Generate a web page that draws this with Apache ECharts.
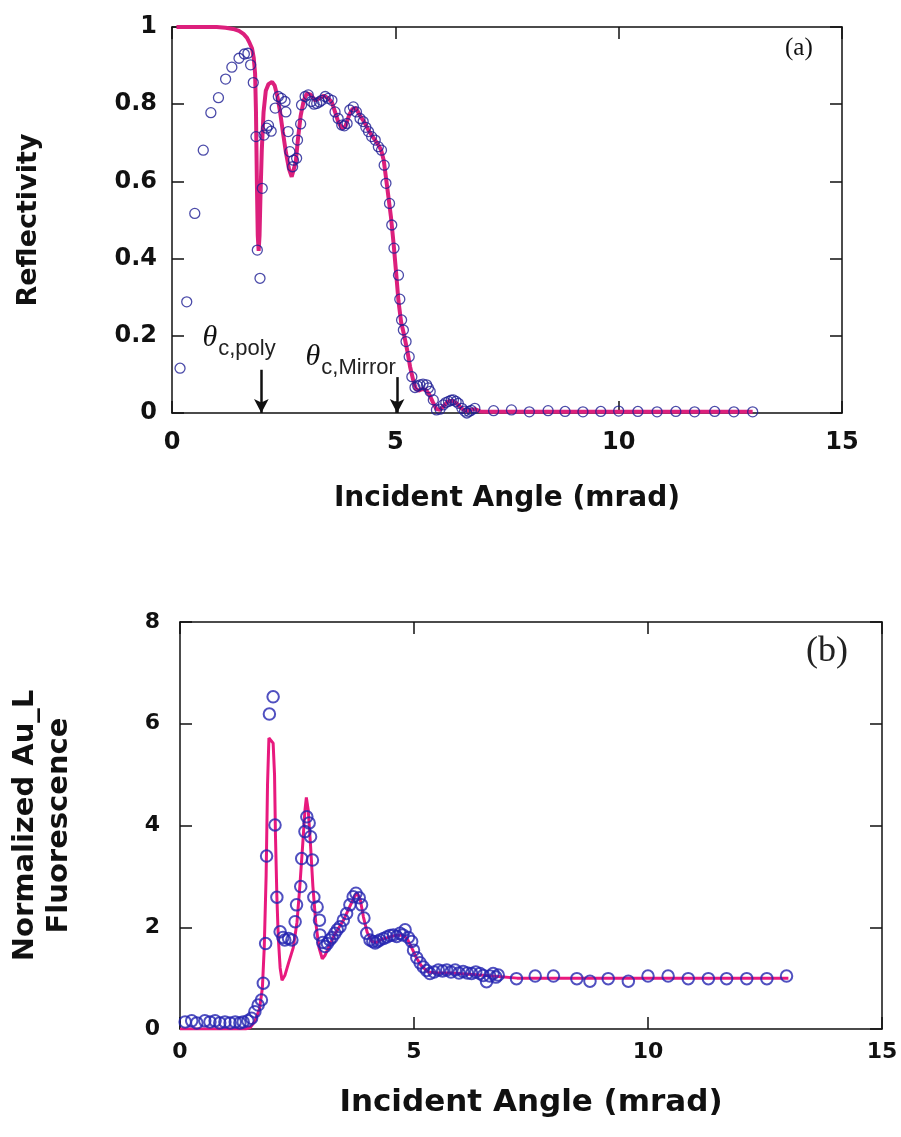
<!DOCTYPE html>
<html>
<head>
<meta charset="utf-8">
<title>Reflectivity and Au_L fluorescence vs incident angle</title>
<script src="https://cdn.jsdelivr.net/npm/echarts@6/dist/echarts.min.js"></script>
<style>
  html, body { margin: 0; padding: 0; background: #ffffff; }
  #chart { width: 901px; height: 1137px; }
</style>
</head>
<body>
<div id="chart"></div>
<script>
// (a) X-ray reflectivity: measured points and calculated curve, [angle mrad, R]
const reflMeasured = [
  [0.18,0.116],[0.33,0.288],[0.51,0.517],[0.70,0.681],[0.87,0.778],[1.04,0.817],[1.2,0.865],
  [1.34,0.896],[1.5,0.919],[1.62,0.93],[1.7,0.932],[1.76,0.902],[1.82,0.856],[1.88,0.716],
  [1.91,0.422],[1.97,0.349],[2.02,0.582],[2.06,0.72],[2.12,0.738],[2.16,0.745],[2.22,0.73],
  [2.31,0.79],[2.38,0.82],[2.45,0.815],[2.53,0.807],[2.55,0.78],[2.6,0.729],[2.64,0.677],
  [2.7,0.638],[2.72,0.655],[2.79,0.66],[2.81,0.707],[2.88,0.749],[2.9,0.798],[2.98,0.82],
  [3.05,0.824],[3.12,0.807],[3.18,0.8],[3.24,0.802],[3.3,0.806],[3.35,0.81],[3.43,0.82],
  [3.5,0.815],[3.58,0.81],[3.65,0.78],[3.72,0.763],[3.8,0.746],[3.86,0.744],[3.92,0.75],
  [3.98,0.785],[4.06,0.793],[4.13,0.78],[4.21,0.763],[4.28,0.755],[4.34,0.74],[4.4,0.729],
  [4.47,0.716],[4.55,0.707],[4.62,0.69],[4.69,0.681],[4.75,0.642],[4.79,0.595],[4.87,0.543],
  [4.92,0.487],[4.97,0.427],[5.07,0.357],[5.1,0.295],[5.14,0.241],[5.18,0.215],[5.24,0.185],
  [5.31,0.146],[5.37,0.094],[5.44,0.066],[5.5,0.07],[5.55,0.073],[5.62,0.075],[5.7,0.073],
  [5.74,0.065],[5.78,0.056],[5.85,0.034],[5.92,0.008],[6.0,0.01],[6.07,0.021],[6.13,0.027],
  [6.19,0.03],[6.25,0.033],[6.3,0.034],[6.36,0.03],[6.41,0.025],[6.49,0.012],[6.55,0.005],
  [6.6,0.0],[6.65,0.004],[6.7,0.007],[6.78,0.012],[7.2,0.006],[7.6,0.008],[8.0,0.003],
  [8.42,0.006],[8.8,0.004],[9.2,0.003],[9.6,0.004],[10.0,0.005],[10.43,0.004],[10.86,0.003],
  [11.28,0.004],[11.7,0.003],[12.15,0.004],[12.58,0.003],[13.0,0.003]
];
const reflFit = [
  [0.1,1.0],[1.0,1.0],[1.2,0.998],[1.4,0.994],[1.5,0.99],[1.6,0.982],[1.68,0.972],[1.74,0.958],
  [1.79,0.945],[1.83,0.92],[1.86,0.88],[1.88,0.78],[1.9,0.6],[1.92,0.46],[1.94,0.42],[1.96,0.46],
  [1.98,0.56],[2.01,0.68],[2.05,0.78],[2.1,0.835],[2.16,0.852],[2.24,0.858],[2.3,0.848],[2.36,0.82],
  [2.42,0.78],[2.48,0.73],[2.55,0.675],[2.62,0.632],[2.68,0.612],[2.72,0.615],[2.77,0.65],[2.82,0.71],
  [2.88,0.77],[2.95,0.81],[3.02,0.828],[3.1,0.825],[3.2,0.81],[3.3,0.815],[3.4,0.822],[3.5,0.815],
  [3.58,0.805],[3.65,0.78],[3.72,0.755],[3.8,0.738],[3.88,0.742],[3.96,0.77],[4.04,0.788],[4.12,0.79],
  [4.2,0.772],[4.3,0.755],[4.4,0.732],[4.5,0.715],[4.6,0.698],[4.68,0.682],[4.74,0.655],[4.79,0.61],
  [4.84,0.565],[4.9,0.51],[4.96,0.44],[5.02,0.36],[5.07,0.29],[5.13,0.235],[5.2,0.2],[5.27,0.16],
  [5.33,0.12],[5.4,0.085],[5.46,0.062],[5.52,0.058],[5.6,0.062],[5.68,0.06],[5.76,0.048],[5.84,0.028],
  [5.92,0.01],[6.0,0.008],[6.08,0.018],[6.18,0.03],[6.28,0.032],[6.38,0.024],[6.48,0.012],[6.58,0.004],
  [6.68,0.008],[6.78,0.01],[6.9,0.004],[7.0,0.003],[13.0,0.003]
];

// (b) normalized Au_L fluorescence: measured points and calculated curve
const fluoMeasured = [
  [0.11,0.14],[0.25,0.16],[0.36,0.12],[0.53,0.16],[0.64,0.14],[0.75,0.16],[0.85,0.12],[0.96,0.14],
  [1.07,0.12],[1.18,0.14],[1.28,0.12],[1.35,0.14],[1.45,0.16],[1.53,0.21],[1.6,0.34],[1.67,0.47],
  [1.74,0.57],[1.78,0.9],[1.83,1.68],[1.85,3.4],[1.91,6.19],[1.99,6.53],[2.03,4.01],[2.07,2.59],
  [2.14,1.91],[2.2,1.8],[2.24,1.75],[2.32,1.78],[2.39,1.75],[2.46,2.11],[2.49,2.44],[2.58,2.8],
  [2.6,3.35],[2.67,3.88],[2.71,4.17],[2.76,4.05],[2.79,3.78],[2.83,3.32],[2.86,2.59],[2.93,2.4],
  [2.98,2.14],[2.99,1.85],[3.05,1.7],[3.1,1.62],[3.15,1.68],[3.2,1.75],[3.25,1.8],[3.31,1.88],
  [3.36,1.95],[3.42,2.01],[3.49,2.14],[3.56,2.27],[3.63,2.44],[3.7,2.6],[3.76,2.67],[3.83,2.58],
  [3.88,2.44],[3.93,2.18],[3.99,1.88],[4.06,1.75],[4.12,1.72],[4.17,1.69],[4.22,1.72],[4.27,1.75],
  [4.35,1.78],[4.42,1.81],[4.49,1.84],[4.56,1.85],[4.63,1.82],[4.7,1.88],[4.76,1.85],[4.81,1.95],
  [4.88,1.8],[4.95,1.72],[4.99,1.55],[5.06,1.4],[5.13,1.3],[5.2,1.22],[5.27,1.15],[5.34,1.09],
  [5.43,1.12],[5.52,1.16],[5.61,1.14],[5.7,1.16],[5.79,1.12],[5.88,1.16],[5.96,1.1],[6.05,1.13],
  [6.14,1.1],[6.23,1.09],[6.32,1.12],[6.41,1.09],[6.48,1.05],[6.55,0.93],[6.62,1.04],[6.69,1.09],
  [6.75,1.02],[6.8,1.06],[7.19,0.99],[7.59,1.04],[7.98,1.04],[8.48,0.99],[8.76,0.94],[9.15,0.99],
  [9.58,0.94],[10.0,1.04],[10.43,1.04],[10.86,0.99],[11.29,0.99],[11.68,0.99],[12.11,0.99],
  [12.54,0.99],[12.96,1.04]
];
const fluoFit = [
  [0,0],[1.4,0.0],[1.5,0.03],[1.6,0.15],[1.7,0.4],[1.76,0.8],[1.8,1.6],[1.84,3.0],[1.87,4.8],
  [1.9,5.72],[1.94,5.7],[1.99,5.62],[2.02,5.0],[2.04,3.8],[2.07,2.6],[2.1,1.8],[2.14,1.2],[2.18,0.96],
  [2.24,1.05],[2.32,1.3],[2.42,1.6],[2.5,2.1],[2.56,2.8],[2.62,3.6],[2.67,4.3],[2.7,4.55],[2.74,4.3],
  [2.79,3.6],[2.84,2.8],[2.9,2.1],[2.97,1.6],[3.04,1.38],[3.1,1.45],[3.2,1.65],[3.3,1.85],[3.4,2.0],
  [3.5,2.15],[3.6,2.35],[3.7,2.55],[3.78,2.68],[3.85,2.55],[3.92,2.2],[4.0,1.9],[4.1,1.72],[4.2,1.7],
  [4.3,1.76],[4.45,1.8],[4.6,1.84],[4.75,1.85],[4.85,1.78],[4.95,1.6],[5.05,1.4],[5.15,1.25],
  [5.3,1.12],[5.5,1.1],[5.8,1.1],[6.1,1.08],[6.4,1.06],[6.8,1.03],[7.2,1.0],[13.0,1.0]
];

// axis ranges and ticks
const angleTicks = { min: 0, max: 15, interval: 5 };
const reflTicks = { min: 0, max: 1, interval: 0.2 };
const fluoTicks = { min: 0, max: 8, interval: 2 };

// critical-angle markers on panel (a): arrow angle, arrow top (R), label anchor, subscript
const criticalMarks = [
  { angle: 2.0, top: 0.112, labelX: 0.67, labelY: 0.195, sub: 'c,poly' },
  { angle: 5.04, top: 0.093, labelX: 2.98, labelY: 0.145, sub: 'c,Mirror' }
];

const chart = echarts.init(document.getElementById('chart'), null, { renderer: 'canvas' });

const BLACK = '#111111';
const heavy = 'DejaVu Sans';

function frameAxis(extra) {
  return Object.assign({
    type: 'value',
    axisLine: { show: true, onZero: false, lineStyle: { color: BLACK, width: 1.5 } },
    axisTick: { show: true, inside: true, length: 12, lineStyle: { color: BLACK, width: 1.5 } },
    splitLine: { show: false },
    minorTick: { show: false }
  }, extra);
}

const option = {
  animation: false,
  backgroundColor: '#ffffff',
  grid: [
    { left: 172, right: 59, top: 27, height: 386 },
    { left: 180, right: 19, top: 622, height: 407 }
  ],
  xAxis: [
    frameAxis(Object.assign({ gridIndex: 0, position: 'bottom',
      name: 'Incident Angle (mrad)', nameLocation: 'middle', nameGap: 72,
      nameTextStyle: { fontFamily: heavy, fontWeight: 'bold', fontSize: 28, color: BLACK },
      axisLabel: { margin: 18, fontFamily: heavy, fontWeight: 'bold', fontSize: 24, color: BLACK }
    }, angleTicks)),
    frameAxis(Object.assign({ gridIndex: 0, position: 'top', axisLabel: { show: false } }, angleTicks)),
    frameAxis(Object.assign({ gridIndex: 1, position: 'bottom',
      name: 'Incident Angle (mrad)', nameLocation: 'middle', nameGap: 58,
      nameTextStyle: { fontFamily: heavy, fontWeight: 'bold', fontSize: 31, color: BLACK },
      axisLabel: { margin: 12, fontFamily: heavy, fontWeight: 'bold', fontSize: 22, color: BLACK }
    }, angleTicks)),
    frameAxis(Object.assign({ gridIndex: 1, position: 'top', axisLabel: { show: false } }, angleTicks))
  ],
  yAxis: [
    frameAxis(Object.assign({ gridIndex: 0, position: 'left',
      name: 'Reflectivity', nameLocation: 'middle', nameGap: 130, nameRotate: 90,
      nameTextStyle: { fontFamily: heavy, fontWeight: 'bold', fontSize: 27, color: BLACK },
      axisLabel: { margin: 15, fontFamily: heavy, fontWeight: 'bold', fontSize: 24, color: BLACK }
    }, reflTicks)),
    frameAxis(Object.assign({ gridIndex: 0, position: 'right', axisLabel: { show: false } }, reflTicks)),
    frameAxis(Object.assign({ gridIndex: 1, position: 'left',
      name: 'Normalized Au_L\nFluorescence', nameLocation: 'middle', nameGap: 104, nameRotate: 90,
      nameTextStyle: { fontFamily: heavy, fontWeight: 'bold', fontSize: 29, lineHeight: 34, color: BLACK },
      axisLabel: { margin: 20, fontFamily: heavy, fontWeight: 'bold', fontSize: 22, color: BLACK }
    }, fluoTicks)),
    frameAxis(Object.assign({ gridIndex: 1, position: 'right', axisLabel: { show: false } }, fluoTicks))
  ],
  series: [
    {
      name: 'Reflectivity fit',
      type: 'line',
      xAxisIndex: 0, yAxisIndex: 0,
      data: reflFit,
      showSymbol: false,
      lineStyle: { color: '#dc1f7c', width: 4 },
      z: 2,
      markLine: {
        silent: true,
        symbol: ['none', 'arrow'],
        symbolSize: [11, 14],
        label: { show: false },
        lineStyle: { color: BLACK, width: 2.5, type: 'solid' },
        data: criticalMarks.map(m => [
          { coord: [m.angle, m.top] },
          { coord: [m.angle, 0] }
        ])
      },
      markPoint: {
        silent: true,
        symbol: 'circle',
        symbolSize: 1,
        itemStyle: { color: 'rgba(0,0,0,0)' },
        label: {
          show: true,
          position: 'right',
          distance: 0,
          formatter: p => '{t|θ}{s|' + p.name + '}',
          rich: {
            t: { fontFamily: 'Liberation Serif', fontStyle: 'italic', fontSize: 30, color: BLACK },
            s: { fontFamily: 'Liberation Sans', fontSize: 22, color: '#222222', padding: [22, 0, 0, 1] }
          }
        },
        data: criticalMarks.map(m => ({ name: m.sub, coord: [m.labelX, m.labelY] }))
      }
    },
    {
      name: 'Reflectivity measured',
      type: 'scatter',
      xAxisIndex: 0, yAxisIndex: 0,
      data: reflMeasured,
      symbol: 'circle',
      symbolSize: 10,
      itemStyle: { color: 'rgba(0,0,0,0)', borderColor: '#1e1e94', borderWidth: 1.3 },
      z: 3
    },
    {
      name: 'Fluorescence fit',
      type: 'line',
      xAxisIndex: 2, yAxisIndex: 2,
      data: fluoFit,
      showSymbol: false,
      lineStyle: { color: '#e8197e', width: 3 },
      z: 2
    },
    {
      name: 'Fluorescence measured',
      type: 'scatter',
      xAxisIndex: 2, yAxisIndex: 2,
      data: fluoMeasured,
      symbol: 'circle',
      symbolSize: 11.5,
      itemStyle: { color: 'rgba(0,0,0,0)', borderColor: '#2424b0', borderWidth: 2 },
      z: 3
    }
  ],
  graphic: [
    { type: 'text', left: 785, top: 36,
      style: { text: '(a)', fontFamily: 'Liberation Serif', fontSize: 25, fill: BLACK } },
    { type: 'text', left: 806, top: 634,
      style: { text: '(b)', fontFamily: 'Liberation Serif', fontSize: 36, fill: '#222222' } }
  ]
};

chart.setOption(option);
</script>
</body>
</html>
